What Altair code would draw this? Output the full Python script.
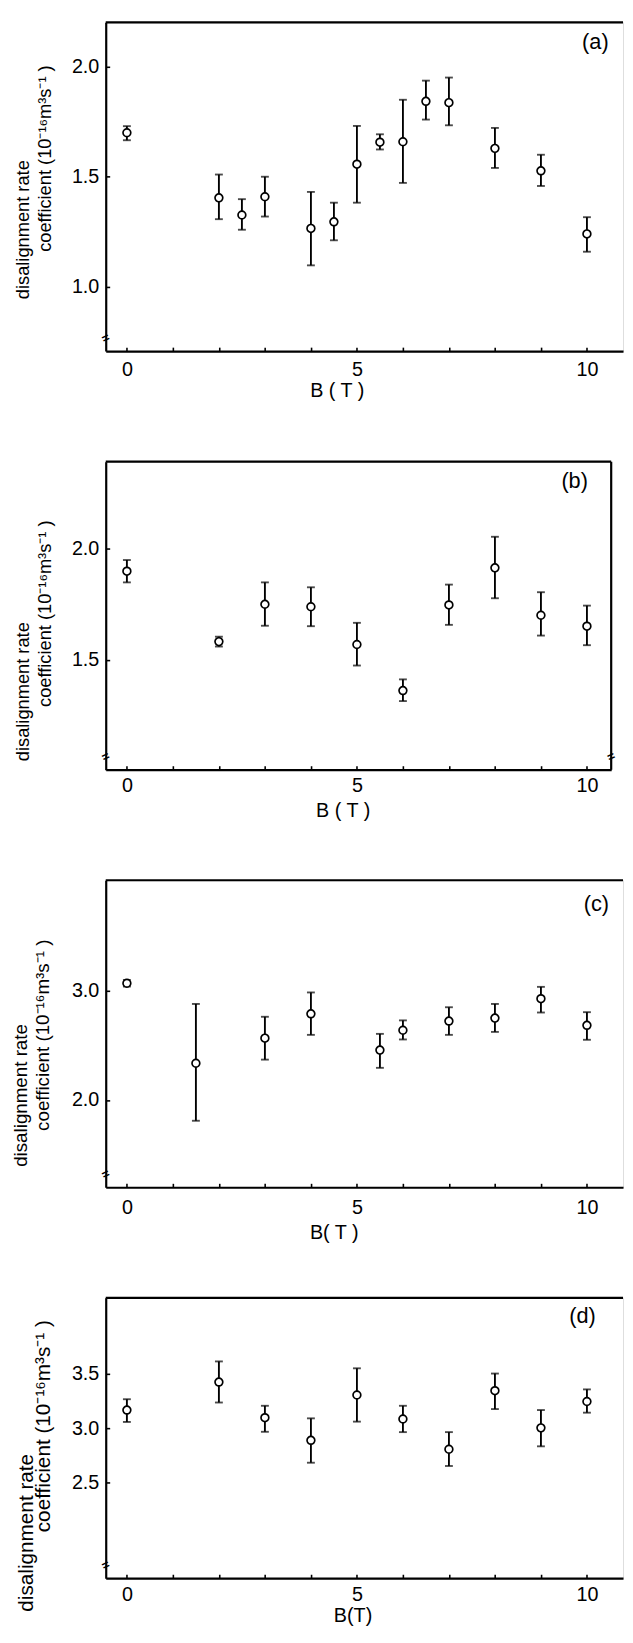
import altair as alt
import pandas as pd

FONT = "Liberation Sans"

# ---- data ----
B_a = [0, 2, 2.5, 3, 4, 4.5, 5, 5.5, 6, 6.5, 7, 8, 9, 10]
k_a = [1.700, 1.404, 1.326, 1.409, 1.265, 1.295, 1.557, 1.657, 1.659, 1.843, 1.837, 1.629, 1.527, 1.240]
hi_a = [1.730, 1.510, 1.398, 1.500, 1.431, 1.382, 1.731, 1.693, 1.850, 1.937, 1.951, 1.722, 1.600, 1.316]
lo_a = [1.666, 1.307, 1.259, 1.319, 1.097, 1.211, 1.382, 1.624, 1.472, 1.760, 1.734, 1.540, 1.458, 1.159]

B_b = [0, 2, 3, 4, 5, 6, 7, 8, 9, 10]
k_b = [1.897, 1.582, 1.749, 1.738, 1.569, 1.363, 1.746, 1.912, 1.700, 1.651]
hi_b = [1.947, 1.604, 1.847, 1.825, 1.666, 1.413, 1.837, 2.051, 1.803, 1.743]
lo_b = [1.847, 1.560, 1.653, 1.651, 1.475, 1.316, 1.657, 1.776, 1.609, 1.566]

B_c = [0, 1.5, 3, 4, 5.5, 6, 7, 8, 9, 10]
k_c = [3.066, 2.336, 2.565, 2.787, 2.456, 2.637, 2.721, 2.748, 2.925, 2.682]
hi_c = [3.096, 2.877, 2.760, 2.982, 2.604, 2.727, 2.847, 2.877, 3.033, 2.802]
lo_c = [3.036, 1.811, 2.369, 2.595, 2.294, 2.553, 2.595, 2.622, 2.799, 2.550]

B_d = [0, 2, 3, 4, 5, 6, 7, 8, 9, 10]
k_d = [3.166, 3.422, 3.096, 2.889, 3.304, 3.084, 2.807, 3.343, 3.003, 3.244]
hi_d = [3.265, 3.611, 3.205, 3.090, 3.548, 3.205, 2.964, 3.500, 3.166, 3.355]
lo_d = [3.057, 3.235, 2.967, 2.684, 3.060, 2.964, 2.654, 3.175, 2.834, 3.142]

x_labels = [0, 5, 10]
x_minor = [0, 1, 2, 3, 4, 5, 6, 7, 8, 9, 10]
yt_a = [1.0, 1.5, 2.0]
yt_b = [1.5, 2.0]
yt_c = [2.0, 3.0]
yt_d = [2.5, 3.0, 3.5]

TITLE1 = "disalignment rate"
TITLE2 = "coefficient (10\u207b\u00b9\u2076m\u00b3s\u207b\u00b9 )"

PX_PER_UNIT = 46.6
X0 = -0.46


def panel(B, k, lo, hi, ydom, yticks, w, h, label, lab_xy, xtitle, xt_x, xt_y,
          lab_pad, t1, t2, tfs, right_frame=False):
    df = pd.DataFrame({"B": B, "k": k, "lo": lo, "hi": hi})
    xdom = [X0, X0 + w / PX_PER_UNIT]
    xs = alt.Scale(domain=xdom, nice=False, zero=False)
    ys = alt.Scale(domain=ydom, nice=False, zero=False)
    base = alt.Chart(df)

    bars = base.mark_rule(strokeWidth=1.9, color="black").encode(
        x=alt.X("B:Q", scale=xs, axis=alt.Axis(
            values=x_labels, ticks=False, domain=True, domainWidth=2.2,
            domainColor="black", labelFontSize=20, labelFont=FONT,
            labelColor="black", labelPadding=lab_pad, labelBaseline="middle",
            labelAngle=0, labelFlush=False, labelOverlap=False, grid=False,
            title=xtitle, titleFontSize=20, titleFont=FONT,
            titleFontWeight="normal", titleColor="black", titleX=xt_x,
            titleY=xt_y, titleBaseline="middle", titleAlign="center")),
        y=alt.Y("lo:Q", scale=ys, axis=alt.Axis(
            values=yticks, format=".1f", ticks=False, domain=True,
            domainWidth=2.2, domainColor="black", labelFontSize=20,
            labelFont=FONT, labelColor="black", labelPadding=7,
            labelOverlap=False, labelFlush=False, grid=False, title=None)),
        y2="hi:Q",
    )
    caps_lo = base.mark_tick(orient="horizontal", size=8, thickness=1.9,
                             color="black").encode(
        x=alt.X("B:Q", axis=None), y=alt.Y("lo:Q", axis=None))
    caps_hi = base.mark_tick(orient="horizontal", size=8, thickness=1.9,
                             color="black").encode(
        x=alt.X("B:Q", axis=None), y=alt.Y("hi:Q", axis=None))
    pts = base.mark_point(shape="circle", size=62, filled=True, fill="white",
                          stroke="black", strokeWidth=1.7, opacity=1).encode(
        x=alt.X("B:Q", axis=None), y=alt.Y("k:Q", axis=None))
    # inward tick marks drawn by two extra axes pushed onto the frame
    inner = base.mark_point(opacity=0).encode(
        x=alt.X("B:Q", axis=alt.Axis(
            orient="top", offset=-h, values=x_minor, labels=False,
            domain=False, ticks=True, tickSize=4, tickWidth=1.6,
            tickColor="black", grid=False, title=None)),
        y=alt.Y("k:Q", axis=alt.Axis(
            orient="right", offset=-w, values=yticks, labels=False,
            domain=False, ticks=True, tickSize=4, tickWidth=1.6,
            tickColor="black", grid=False, title=None)),
    )
    one = alt.Chart(pd.DataFrame({"z": [0]}))
    top = one.mark_rule(strokeWidth=2.2, color="black").encode(
        x=alt.value(0), x2=alt.value(w), y=alt.value(0))
    brk = one.mark_text(text="=", angle=335, fontSize=13, fontWeight="bold",
                        font=FONT, color="black").encode(
        x=alt.value(0), y=alt.value(h - 13))
    lab = one.mark_text(text=label, fontSize=22, font=FONT, color="black",
                        align="center", baseline="middle").encode(
        x=alt.value(lab_xy[0]), y=alt.value(lab_xy[1]))
    l1 = one.mark_text(text=TITLE1, angle=270, fontSize=tfs, font=FONT,
                       color="black", align="center", baseline="middle").encode(
        x=alt.value(t1[0]), y=alt.value(t1[1]))
    l2 = one.mark_text(text=TITLE2, angle=270, fontSize=tfs, font=FONT,
                       color="black", align="center", baseline="middle").encode(
        x=alt.value(t2[0]), y=alt.value(t2[1]))
    edge = one.mark_rule(color="white", strokeWidth=1).encode(
        x=alt.value(-98), y=alt.value(0), y2=alt.value(2))
    layers = [bars, caps_lo, caps_hi, pts, inner, top, brk, lab, l1, l2, edge]
    if right_frame:
        layers.append(one.mark_rule(strokeWidth=2.2, color="black").encode(
            x=alt.value(w), y=alt.value(0), y2=alt.value(h)))
        layers.append(one.mark_text(text="=", angle=335, fontSize=13,
                                    fontWeight="bold", font=FONT,
                                    color="black").encode(
            x=alt.value(w), y=alt.value(h - 13)))
    return alt.layer(*layers).resolve_axis(x="independent", y="independent") \
        .properties(width=w, height=h)


pa = panel(B_a, k_a, lo_a, hi_a, [0.707, 2.202], yt_a, 524, 333, "(a)",
           (496, 20), "B ( T )", 234, 40, 19, (-84, 210), (-61, 138), 18.5)
pb = panel(B_b, k_b, lo_b, hi_b, [1.009, 2.387], yt_b, 512, 312, "(b)",
           (475, 20), "B ( T )", 240, 41, 16, (-84, 233), (-61, 154), 18.5,
           right_frame=True)
pc = panel(B_c, k_c, lo_c, hi_c, [1.204, 4.006], yt_c, 524, 311, "(c)",
           (497, 24), "B( T )", 231, 46, 21, (-86, 218), (-63, 157), 19)
pd_ = panel(B_d, k_d, lo_d, hi_d, [1.627, 4.193], yt_d, 524, 284, "(d)",
            (483, 18), "B(T)", 250, 38, 17, (-80, 238), (-62, 130), 21)

chart = alt.vconcat(pa, pb, pc, pd_, spacing=112, bounds="flush").properties(
    padding={"left": 0, "top": 2, "right": 0, "bottom": 0},
    background="white",
).configure_view(stroke=None).configure(font=FONT)

chart.save("out.html", embed_options={"renderer": "svg", "actions": False})
